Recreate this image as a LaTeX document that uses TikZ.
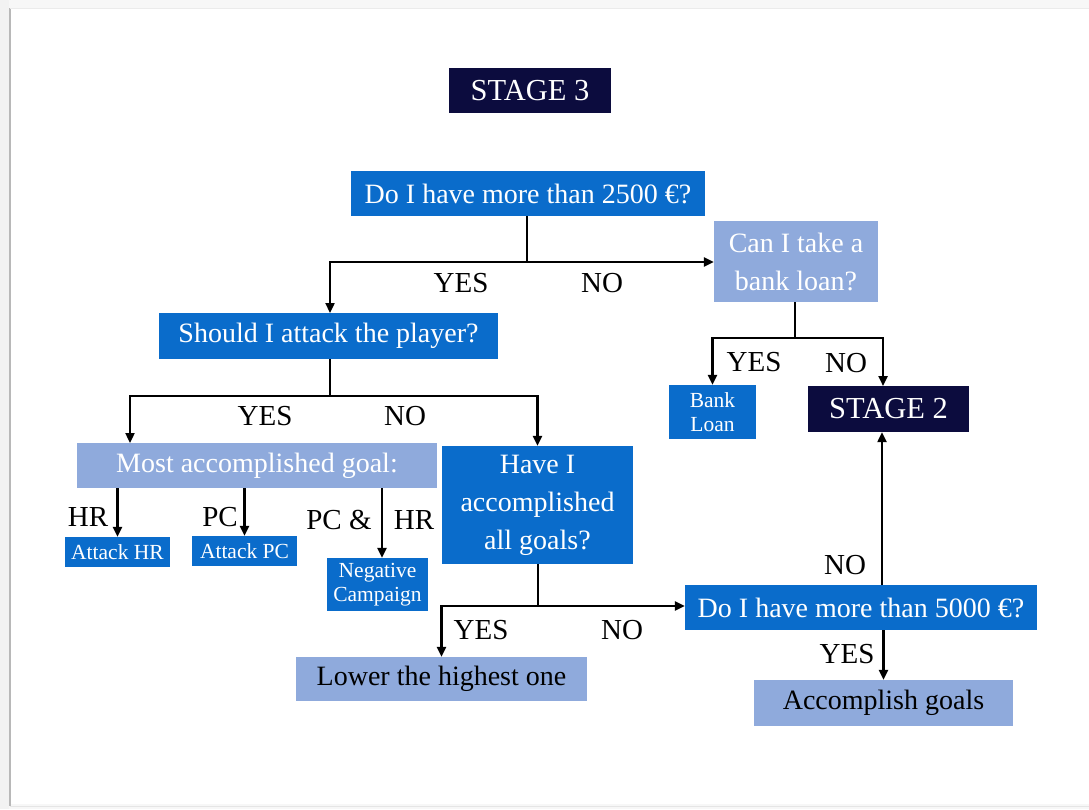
\documentclass[tikz,border=0pt]{standalone}
\usepackage{fontspec}
\setmainfont{Liberation Serif}
\usetikzlibrary{arrows.meta}
\definecolor{qblue}{HTML}{0A6CCB}
\definecolor{lblue}{HTML}{8FAADC}
\definecolor{navy}{HTML}{0C0C3E}
\tikzset{
  box/.style={inner sep=0pt, align=center, font=\fontsize{28}{38}\selectfont},
  qbox/.style={box, fill=qblue, text=white},
  lbox/.style={box, fill=lblue},
  sbox/.style={box, fill=navy, text=white, font=\fontsize{30.5}{34}\selectfont},
  small/.style={font=\fontsize{21.5}{24}\selectfont},
  lbl/.style={inner sep=0pt, font=\fontsize{29}{32}\selectfont},
  arr/.style={line width=2.3pt, -{Triangle[length=10pt,width=9pt]}},
  ln/.style={line width=2.3pt},
}
\begin{document}
\begin{tikzpicture}[x=1pt,y=-1pt]
% card and its soft edges
\useasboundingbox (0,0) rectangle (1089,809);
\fill[white] (0,0) rectangle (1089,809);
\fill[black!3] (0,0) rectangle (1089,8);
\fill[black!3] (0,804) rectangle (1089,809);
\fill[black!5] (0,0) rectangle (9,809);
\draw[black!28, line width=2pt] (10,8) -- (10,806);
\draw[black!8, line width=1pt] (10,8) -- (1089,8);
\draw[black!10, line width=1pt] (10,806) -- (1089,806);

% boxes
\node[sbox, minimum width=162, minimum height=45] (s3) at (530,90.5) {STAGE 3};
\node[qbox, minimum width=354, minimum height=45] (q1) at (528,193.5) {Do I have more than 2500 €?};
\node[lbox, text=white, minimum width=164, minimum height=81] (loan) at (796,261.5) {Can I take a\\bank loan?};
\node[qbox, minimum width=339, minimum height=46] (att) at (328.5,336) {Should I attack the player?};
\node[lbox, text=white, minimum width=360, minimum height=45] (most) at (257,465.5) {Most accomplished goal:};
\node[qbox, minimum width=191, minimum height=118] (have) at (537.5,505) {Have I\\accomplished\\all goals?};
\node[qbox, small, minimum width=87, minimum height=54] (bank) at (712.5,412) {Bank\\Loan};
\node[sbox, minimum width=161, minimum height=46] (s2) at (888.5,409) {STAGE 2};
\node[qbox, small, minimum width=105, minimum height=30] (ahr) at (117.5,552) {Attack HR};
\node[qbox, small, minimum width=105, minimum height=30] (apc) at (244.5,551) {Attack PC};
\node[qbox, small, minimum width=101, minimum height=53] (neg) at (377.5,584.5) {Negative\\Campaign};
\node[qbox, minimum width=352, minimum height=45] (q2) at (861,607.5) {Do I have more than 5000 €?};
\node[lbox, minimum width=291, minimum height=44] (low) at (441.5,679) {Lower the highest one};
\node[lbox, minimum width=259, minimum height=46] (acc) at (883.5,703) {Accomplish goals};

% branch points
\coordinate (j1) at (527,262);
\coordinate (j2) at (330,396);
\coordinate (j3) at (795,338);
\coordinate (j4) at (538,606);
\coordinate (mostin) at (130,443);
\coordinate (attin) at (330,313);
\coordinate (s2in) at (883,386);
\coordinate (negout) at (382,488);
\coordinate (q2out) at (882,585);

% connectors
\draw[ln] (j1 |- q1.south) -- (j1);
\draw[arr] (j1) -- (j1 -| loan.west);
\draw[arr] (j1) -| (attin);

\draw[ln] (j2 |- att.south) -- (j2);
\draw[arr] (j2) -| (mostin);
\draw[arr] (j2) -| (have.north);

\draw[ln] (j3 |- loan.south) -- (j3);
\draw[arr] (j3) -| (bank.north);
\draw[arr] (j3) -| (s2in);

\draw[arr] (ahr.north |- most.south) -- (ahr.north);
\draw[arr] (apc.north |- most.south) -- (apc.north);
\draw[arr] (negout) -- (negout |- neg.north);

\draw[ln] (j4 |- have.south) -- (j4);
\draw[arr] (j4) -- (j4 -| q2.west);
\draw[arr] (j4) -| (low.north);

\draw[arr] (q2out) -- (q2out |- s2.south);
\draw[arr] (acc.north |- q2.south) -- (acc.north);

% branch labels
\node[lbl] (y1) at (461,283) {YES};
\node[lbl] (n1) at (602,283) {NO};
\node[lbl] (y2) at (265,416) {YES};
\node[lbl] (n2) at (405,416) {NO};
\node[lbl] (y3) at (754,362) {YES};
\node[lbl] (n3) at (846,363) {NO};
\node[lbl] (lhr) at (88,517) {HR};
\node[lbl] (lpc) at (220,517) {PC};
\node[lbl] (lpc2) at (339,520) {PC \&};
\node[lbl] (lhr2) at (414,520) {HR};
\node[lbl] (y4) at (481,630) {YES};
\node[lbl] (n4) at (622,630) {NO};
\node[lbl] (n5) at (845,565) {NO};
\node[lbl] (y5) at (847,654) {YES};
\end{tikzpicture}
\end{document}
